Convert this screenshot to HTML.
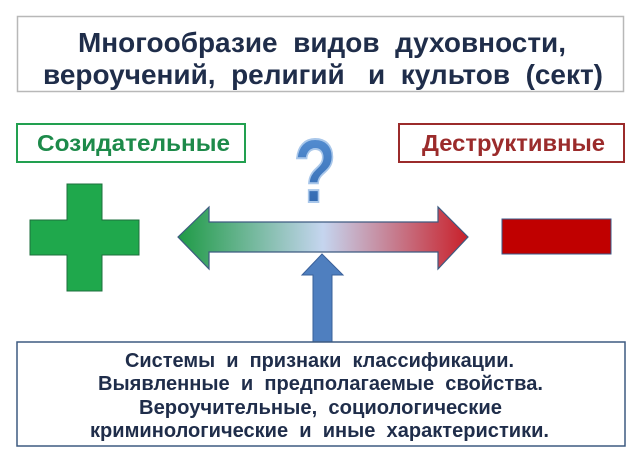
<!DOCTYPE html>
<html><head><meta charset="utf-8"><style>
html,body{margin:0;padding:0;background:#fff;}
body{width:640px;height:462px;position:relative;overflow:hidden;font-family:"Liberation Sans",sans-serif;}
</style></head><body>
<svg width="640" height="462" viewBox="0 0 640 462" xmlns="http://www.w3.org/2000/svg">
<defs>
<linearGradient id="g" x1="178" x2="468" y1="0" y2="0" gradientUnits="userSpaceOnUse">
<stop offset="0" stop-color="#1e9a45"/>
<stop offset="0.5" stop-color="#c5d5ef"/>
<stop offset="1" stop-color="#c8202a"/>
</linearGradient>
<linearGradient id="q" x1="0" x2="0" y1="0" y2="1">
<stop offset="0" stop-color="#5b95d8"/>
<stop offset="1" stop-color="#2a60a8"/>
</linearGradient>
</defs>
<rect x="17.5" y="16.5" width="606" height="75" fill="#fff" stroke="#b8b8b8" stroke-width="1.5"/>
<g font-family="Liberation Sans, sans-serif" font-weight="bold" font-size="28" fill="#1f2d4a">
<text x="78" y="52" textLength="488" lengthAdjust="spacingAndGlyphs" xml:space="preserve">Многообразие  видов  духовности,</text>
<text x="43" y="84" textLength="560" lengthAdjust="spacingAndGlyphs" xml:space="preserve">вероучений,  религий   и  культов  (сект)</text>
</g>
<rect x="17" y="124" width="228" height="38" fill="#fff" stroke="#22a050" stroke-width="2"/>
<text x="37" y="151" textLength="193" lengthAdjust="spacingAndGlyphs" font-weight="bold" font-size="23" fill="#1d8a4a">Созидательные</text>
<rect x="399" y="124" width="225" height="38" fill="#fff" stroke="#9b2b2b" stroke-width="2"/>
<text x="422" y="151" textLength="183" lengthAdjust="spacingAndGlyphs" font-weight="bold" font-size="23" fill="#9b2b2b">Деструктивные</text>
<text transform="translate(315,202) scale(0.78,1)" text-anchor="middle" font-weight="bold" font-size="90" fill="url(#q)" stroke="#a9c7ea" stroke-width="2">?</text>
<path d="M67 184H102V220H139V255H102V291H67V255H30V220H67Z" fill="#1fa84c" stroke="#1c6f3c" stroke-width="1"/>
<rect x="502" y="219" width="109" height="35" fill="#c00000" stroke="#3a5a8a" stroke-width="1"/>
<path d="M178 237L209 207V222H438V207L468 237L438 269V252H209V269Z" fill="url(#g)" stroke="#3d5a80" stroke-width="1.2"/>
<path d="M322 254L343 275H332V342H313V275H302Z" fill="#4f7fbf" stroke="#3a609a" stroke-width="1"/>
<rect x="17" y="342" width="608" height="104" fill="#fff" stroke="#3d5a80" stroke-width="1.5"/>
<g font-weight="bold" font-size="20" fill="#1f2d4a">
<text x="125" y="367" textLength="389" lengthAdjust="spacingAndGlyphs" xml:space="preserve">Системы  и  признаки  классификации.</text>
<text x="98" y="390" textLength="445" lengthAdjust="spacingAndGlyphs" xml:space="preserve">Выявленные  и  предполагаемые  свойства.</text>
<text x="139" y="414" textLength="363" lengthAdjust="spacingAndGlyphs" xml:space="preserve">Вероучительные,  социологические</text>
<text x="90" y="437" textLength="459" lengthAdjust="spacingAndGlyphs" xml:space="preserve">криминологические  и  иные  характеристики.</text>
</g>
</svg>
</body></html>
